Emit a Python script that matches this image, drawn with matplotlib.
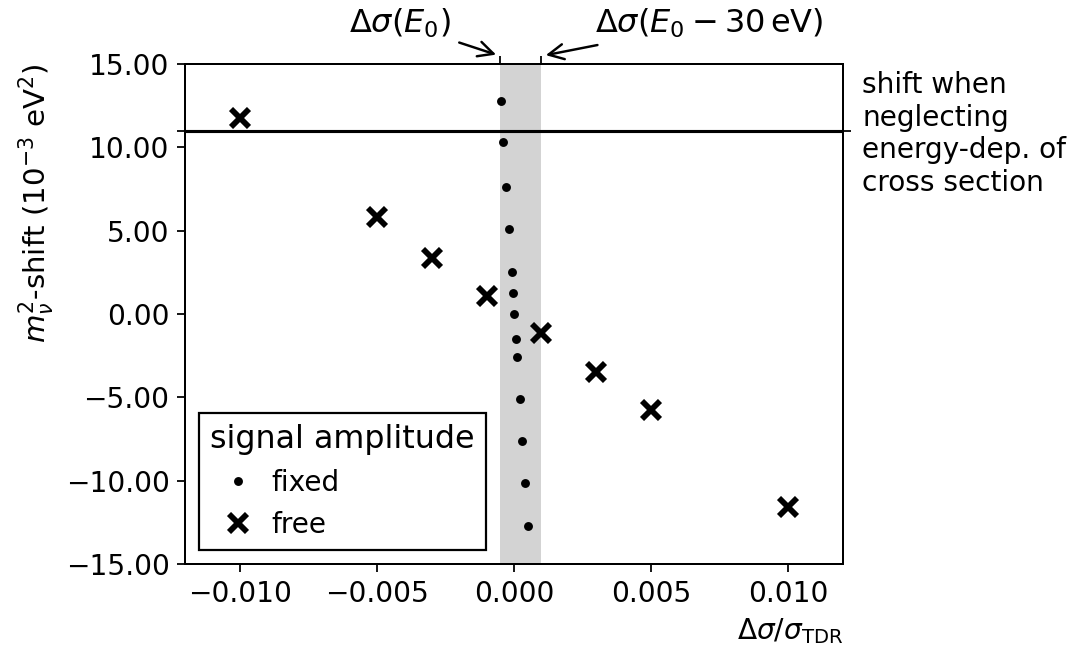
import matplotlib
matplotlib.use("Agg")
import matplotlib.pyplot as plt
import matplotlib.transforms as mtransforms
from matplotlib.ticker import FuncFormatter

plt.rcParams['font.size'] = 12.6

# fit results with fixed signal amplitude
fixed_dsigma = [-0.00049, -0.00039, -0.00029, -0.00018, -0.00008, -0.00004, 0.00001,
                0.00007, 0.00011, 0.00021, 0.00030, 0.00041, 0.00052]
fixed_shift = [12.80, 10.32, 7.60, 5.08, 2.54, 1.24, 0.00,
               -1.52, -2.56, -5.08, -7.64, -10.16, -12.72]

# fit results with free signal amplitude
free_dsigma = [-0.010, -0.005, -0.003, -0.001, 0.001, 0.003, 0.005, 0.010]
free_shift = [11.76, 5.82, 3.36, 1.08, -1.14, -3.48, -5.76, -11.58]

# uncertainty band and reference shift
band_lo, band_hi = -0.0005, 0.001
neglect_shift = 11.0


def fmt(pattern):
    return FuncFormatter(lambda v, pos: (pattern % v).replace('-', '\u2212'))


fig = plt.figure(figsize=(1084 / 160, 654 / 160), dpi=160)
ax = fig.add_axes([0.1707, 0.1376, 0.607, 0.7645])

ax.axvspan(band_lo, band_hi, color='lightgrey', lw=0, zorder=0)
ax.axhline(neglect_shift, color='black', lw=1.4, zorder=1)

ax.plot(fixed_dsigma, fixed_shift, '.', color='black', label='fixed', zorder=3)
ax.plot(free_dsigma, free_shift, 'x', color='black', ms=8, mew=2.6,
        label='free', zorder=3)

ax.set_xlim(-0.012, 0.012)
ax.set_ylim(-15, 15)
ax.set_xticks([-0.01, -0.005, 0.0, 0.005, 0.01])
ax.set_yticks([-15, -10, -5, 0, 5, 10, 15])
ax.xaxis.set_major_formatter(fmt('%.3f'))
ax.yaxis.set_major_formatter(fmt('%.2f'))
ax.set_xlabel(r'$\Delta\sigma/\sigma_{\mathrm{TDR}}$', loc='right')
ax.set_ylabel(r'$m_\nu^2$-shift ($10^{-3}$ eV$^2$)', loc='top', fontsize=13.2)

# marker ticks for the band edges on top
axt = ax.twiny()
axt.set_xlim(ax.get_xlim())
axt.set_xticks([band_lo, band_hi])
axt.set_xticklabels([])

# marker ticks for the reference shift on both sides
axr = ax.twinx()
axr.set_ylim(ax.get_ylim())
axr.set_yticks([neglect_shift])
axr.set_yticklabels([])
axr.tick_params(left=True)

arrow = dict(arrowstyle='->', color='black', lw=1.1, mutation_scale=17)
ax.annotate(r'$\Delta\sigma(E_0)$', xy=(band_lo, 1.016),
            xycoords=('data', 'axes fraction'),
            xytext=(-0.00417, 1.082), textcoords=('data', 'axes fraction'),
            ha='center', va='center', fontsize=14.4, arrowprops=arrow)
ax.annotate(r'$\Delta\sigma(E_0 - 30\,\mathrm{eV})$', xy=(band_hi, 1.016),
            xycoords=('data', 'axes fraction'),
            xytext=(0.00713, 1.082), textcoords=('data', 'axes fraction'),
            ha='center', va='center', fontsize=14.4, arrowprops=arrow)

trans = mtransforms.blended_transform_factory(ax.transAxes, ax.transData)
ax.text(1.029, 10.8, 'shift when\nneglecting\nenergy-dep. of\ncross section',
        transform=trans, ha='left', va='center')

leg = ax.legend(title='signal amplitude', title_fontsize=14.3, loc='lower left',
                fancybox=False, edgecolor='black', framealpha=1,
                alignment='left', handletextpad=0.2)
leg.get_frame().set_linewidth(1.0)

fig.savefig('out.png', dpi=160)
